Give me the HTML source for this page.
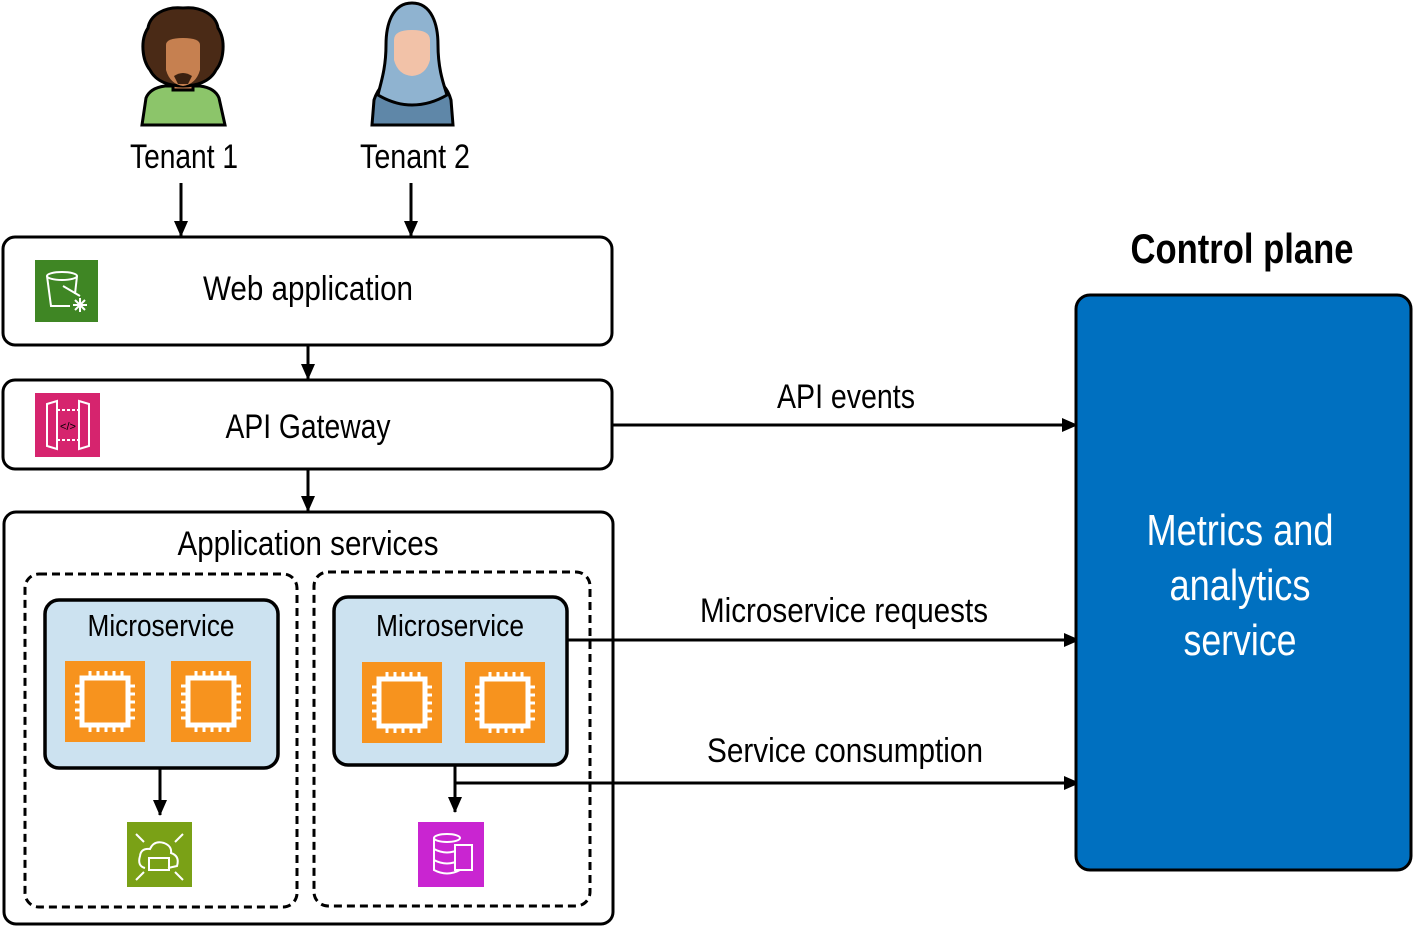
<!DOCTYPE html>
<html><head><meta charset="utf-8"><style>
html,body{margin:0;padding:0;background:#fff}
svg{display:block}
text{font-family:"Liberation Sans",sans-serif;fill:#000}
</style></head><body>
<svg width="1413" height="927" viewBox="0 0 1413 927" xmlns="http://www.w3.org/2000/svg">
<defs>
<marker id="ah" markerWidth="16" markerHeight="16" refX="15" refY="8" orient="auto" markerUnits="userSpaceOnUse" viewBox="0 0 16 16"><path d="M0,1 L16,8 L0,15 z" fill="#000"/></marker>
<g id="chip">
<rect x="0" y="0" width="80" height="81" fill="#f7931e"/>
<rect x="17" y="17" width="46" height="47" fill="none" stroke="#fff" stroke-width="5"/>
<g stroke="#fff" stroke-width="3">
<path d="M25,10v6M33,10v6M41,10v6M49,10v6M57,10v6M25,65v6M33,65v6M41,65v6M49,65v6M57,65v6M10,25h6M10,33h6M10,41h6M10,49h6M10,57h6M64,25h6M64,33h6M64,41h6M64,49h6M64,57h6"/>
</g>
</g>
</defs>

<!-- Tenant 1 -->
<g stroke="#000" stroke-width="3">
<path d="M142,125 L146,98 Q150,88 165,86 L200,86 Q215,88 219,98 L225,125 Z" fill="#8cc56a"/>
<rect x="173" y="76" width="20" height="14" fill="#c68050"/>
<path d="M183,8 C165,6 150,15 148,28 C140,40 142,60 150,70 C156,82 170,86 183,86 C196,86 210,82 216,70 C224,60 226,40 218,28 C216,15 201,6 183,8 Z" fill="#4a2a16"/>
<path d="M166,45 Q166,38 183,38 Q200,38 200,45 L200,70 Q196,84 183,86 Q170,84 166,70 Z" fill="#c68050" stroke="none"/>
<path d="M174,76 Q183,70 192,76 L188,84 L178,84 Z" fill="#3a2010" stroke="none"/>
</g>
<text x="184" y="168" font-size="34" text-anchor="middle" textLength="108" lengthAdjust="spacingAndGlyphs">Tenant 1</text>

<!-- Tenant 2 -->
<g stroke="#000" stroke-width="3">
<path d="M372,125 L374,100 Q380,82 395,78 L430,78 Q446,82 451,100 L453,125 Z" fill="#5f87a8"/>
<path d="M412,3 C392,3 386,25 386,45 C386,70 380,85 378,95 Q395,105 412,105 Q430,105 447,95 C444,85 438,70 438,45 C438,25 432,3 412,3 Z" fill="#8fb3d0"/>
<path d="M394,40 Q394,30 412,30 Q430,30 430,40 L430,60 Q426,75 412,76 Q398,75 394,60 Z" fill="#f2c2a8" stroke="none"/>
</g>
<text x="415" y="168" font-size="34" text-anchor="middle" textLength="110" lengthAdjust="spacingAndGlyphs">Tenant 2</text>

<g stroke="#000" stroke-width="3" fill="none">
<line x1="181" y1="183" x2="181" y2="236" marker-end="url(#ah)"/>
<line x1="411" y1="183" x2="411" y2="236" marker-end="url(#ah)"/>
<line x1="308" y1="346" x2="308" y2="379" marker-end="url(#ah)"/>
<line x1="308" y1="470" x2="308" y2="511" marker-end="url(#ah)"/>
<line x1="612" y1="425" x2="1077" y2="425" marker-end="url(#ah)"/>
<line x1="567" y1="640" x2="1079" y2="640" marker-end="url(#ah)"/>
<polyline points="455,766 455,783 1079,783" marker-end="url(#ah)"/>
<line x1="455" y1="780" x2="455" y2="812" marker-end="url(#ah)"/>
<line x1="160" y1="769" x2="160" y2="815" marker-end="url(#ah)"/>
</g>

<rect x="3" y="237" width="609" height="108" rx="12" fill="#fff" stroke="#000" stroke-width="3"/>
<rect x="35" y="260" width="63" height="62" fill="#3f8624"/>
<g stroke="#fff" stroke-width="2" fill="none"><ellipse cx="62" cy="276" rx="15" ry="4"/><path d="M47,276 L51,306 L70,306"/><path d="M77,276 L75,294"/><line x1="63" y1="286" x2="80" y2="296"/><path d="M80,298v14M73,305h14M75,300l10,10M85,300l-10,10"/></g>
<text x="308" y="300" font-size="34" text-anchor="middle" textLength="210" lengthAdjust="spacingAndGlyphs">Web application</text>

<rect x="3" y="380" width="609" height="89" rx="12" fill="#fff" stroke="#000" stroke-width="3"/>
<rect x="35" y="393" width="65" height="64" fill="#d6246e"/>
<g stroke="#fff" stroke-width="2" fill="none"><path d="M47,404 L57,401 L57,449 L47,446 Z"/><path d="M89,404 L79,401 L79,449 L89,446 Z"/><path d="M57,410h22M57,440h22" stroke-dasharray="3 2"/><text x="68" y="430" font-size="11" text-anchor="middle" fill="#fff" stroke="none">&lt;/&gt;</text></g>
<text x="308" y="438" font-size="34" text-anchor="middle" textLength="165" lengthAdjust="spacingAndGlyphs">API Gateway</text>

<rect x="4" y="512" width="609" height="412" rx="12" fill="none" stroke="#000" stroke-width="3"/>
<text x="308" y="555" font-size="34" text-anchor="middle" textLength="261" lengthAdjust="spacingAndGlyphs">Application services</text>
<rect x="25" y="574" width="272" height="333" rx="14" fill="none" stroke="#000" stroke-width="3" stroke-dasharray="8 5"/>
<rect x="314" y="572" width="276" height="334" rx="14" fill="none" stroke="#000" stroke-width="3" stroke-dasharray="8 5"/>

<rect x="45" y="600" width="233" height="168" rx="14" fill="#cce2f0" stroke="#000" stroke-width="3.5"/>
<text x="161" y="636" font-size="31" text-anchor="middle" textLength="147" lengthAdjust="spacingAndGlyphs">Microservice</text>
<use href="#chip" x="65" y="661"/>
<use href="#chip" x="171" y="661"/>

<rect x="334" y="597" width="233" height="168" rx="14" fill="#cce2f0" stroke="#000" stroke-width="3.5"/>
<text x="450" y="636" font-size="31" text-anchor="middle" textLength="148" lengthAdjust="spacingAndGlyphs">Microservice</text>
<use href="#chip" x="362" y="662"/>
<use href="#chip" x="465" y="662"/>

<rect x="127" y="822" width="65" height="65" fill="#7aa116"/>
<g stroke="#fff" stroke-width="2" fill="none"><path d="M145,868 Q137,866 140,856 Q141,848 150,849 Q154,840 164,843 Q172,846 171,853 Q180,856 177,866 L168,868"/><rect x="149" y="858" width="20" height="12"/><path d="M136,834l8,8M183,834l-8,8M136,880l8,-8M183,880l-8,-8"/></g>
<rect x="418" y="822" width="66" height="65" fill="#c925d1"/>
<g stroke="#fff" stroke-width="2" fill="none"><ellipse cx="447" cy="838" rx="13" ry="4"/><path d="M434,838v32q13,7 26,0M434,849q13,7 26,0M434,860q13,7 26,0"/><rect x="455" y="845" width="17" height="25" fill="#c925d1"/></g>

<text x="846" y="408" font-size="34" text-anchor="middle" textLength="138" lengthAdjust="spacingAndGlyphs">API events</text>
<text x="844" y="622" font-size="34" text-anchor="middle" textLength="288" lengthAdjust="spacingAndGlyphs">Microservice requests</text>
<text x="845" y="762" font-size="34" text-anchor="middle" textLength="276" lengthAdjust="spacingAndGlyphs">Service consumption</text>

<text x="1242" y="263" font-size="42" font-weight="bold" text-anchor="middle" textLength="223" lengthAdjust="spacingAndGlyphs">Control plane</text>
<rect x="1076" y="295" width="335" height="575" rx="14" fill="#0070c0" stroke="#000" stroke-width="3"/>
<g font-size="44" text-anchor="middle">
<text x="1240" y="545" style="fill:#fff" textLength="187" lengthAdjust="spacingAndGlyphs">Metrics and</text>
<text x="1240" y="600" style="fill:#fff" textLength="141" lengthAdjust="spacingAndGlyphs">analytics</text>
<text x="1240" y="655" style="fill:#fff" textLength="113" lengthAdjust="spacingAndGlyphs">service</text>
</g>
</svg>
</body></html>
